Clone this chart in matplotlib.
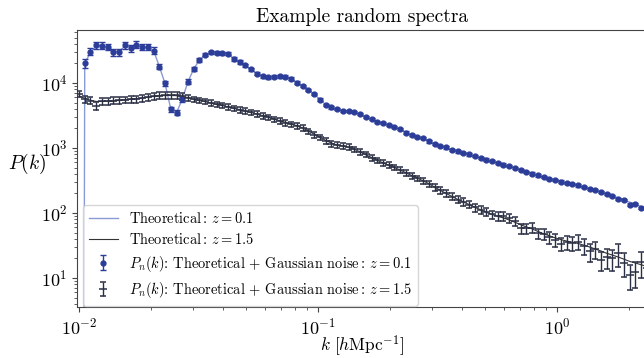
import numpy as np
import matplotlib
matplotlib.use("Agg")
import matplotlib.pyplot as plt

plt.rcParams['font.family'] = 'serif'
plt.rcParams['font.serif'] = ['cmr10']
plt.rcParams['mathtext.fontset'] = 'cm'
plt.rcParams['axes.formatter.use_mathtext'] = True

k = [0.0100, 0.01057, 0.01117, 0.01180, 0.01247, 0.01318, 0.01393, 0.01472, 0.01556, 0.01644,
     0.01738, 0.01837, 0.01941, 0.02051, 0.02168, 0.02291, 0.02421, 0.02559, 0.02704, 0.02858,
     0.03020, 0.03192, 0.03373, 0.03565, 0.03767, 0.03981, 0.04207, 0.04446, 0.04699, 0.04966,
     0.05248, 0.05546, 0.05861, 0.06194, 0.06546, 0.06918, 0.07311, 0.07727, 0.08166, 0.08630,
     0.09120, 0.09638, 0.1019, 0.1076, 0.1138, 0.1202, 0.1271, 0.1343, 0.1419, 0.1500,
     0.1585, 0.1675, 0.1770, 0.1871, 0.1977, 0.2089, 0.2208, 0.2333, 0.2466, 0.2606,
     0.2754, 0.2911, 0.3076, 0.3251, 0.3436, 0.3631, 0.3837, 0.4055, 0.4285, 0.4529,
     0.4786, 0.5058, 0.5346, 0.5649, 0.5970, 0.6310, 0.6668, 0.7047, 0.7447, 0.7870,
     0.8318, 0.8790, 0.9290, 0.9817, 1.038, 1.096, 1.159, 1.225, 1.294, 1.368,
     1.445, 1.528, 1.614, 1.706, 1.803, 1.905, 2.014, 2.128, 2.249, 2.377]

theory_z01 = [1e-30, 2.0e4, 2.95e4, 3.7e4, 3.75e4, 3.55e4, 3.1e4, 3.05e4, 3.7e4, 3.55e4,
              3.75e4, 3.6e4, 3.55e4, 3.15e4, 1.8e4, 9.8e3, 4.0e3, 3.5e3, 5.6e3, 1.05e4,
              1.64e4, 2.25e4, 2.74e4, 2.95e4, 2.93e4, 2.87e4, 2.8e4, 2.36e4, 2.1e4, 1.87e4,
              1.62e4, 1.4e4, 1.27e4, 1.23e4, 1.25e4, 1.26e4, 1.24e4, 1.16e4, 1.01e4, 8.9e3,
              7.9e3, 6.7e3, 5.6e3, 4.65e3, 4.2e3, 3.95e3, 3.75e3, 3.65e3, 3.52e3, 3.3e3,
              2.98e3, 2.76e3, 2.55e3, 2.4e3, 2.26e3, 2.1e3, 1.93e3, 1.74e3, 1.59e3, 1.49e3,
              1.4e3, 1.27e3, 1.16e3, 1.08e3, 1.01e3, 940, 885, 835, 790, 745,
              703, 664, 627, 592, 558, 526, 495, 463, 431, 404,
              379, 357, 338, 320, 305, 291, 278, 264, 250, 237,
              224, 211, 198, 185, 171, 159, 147, 136, 126, 117]

noisy_z01 = [np.nan, 2.05e4, 3.03e4, 3.85e4, 3.75e4, 3.6e4, 3.0e4, 2.97e4, 3.85e4, 3.45e4,
             3.9e4, 3.6e4, 3.6e4, 3.14e4, 1.78e4, 9.9e3, 3.93e3, 3.49e3, 5.6e3, 1.05e4,
             1.64e4, 2.26e4, 2.74e4, 2.97e4, 2.93e4, 2.86e4, 2.82e4, 2.34e4, 2.1e4, 1.87e4,
             1.62e4, 1.39e4, 1.27e4, 1.22e4, 1.25e4, 1.27e4, 1.25e4, 1.16e4, 1.01e4, 9.0e3,
             7.9e3, 6.7e3, 5.55e3, 4.58e3, 4.2e3, 3.98e3, 3.73e3, 3.67e3, 3.54e3, 3.3e3,
             2.97e3, 2.77e3, 2.54e3, 2.4e3, 2.26e3, 2.1e3, 1.94e3, 1.73e3, 1.58e3, 1.49e3,
             1.41e3, 1.26e3, 1.15e3, 1.08e3, 1.02e3, 937, 883, 837, 794, 745,
             701, 665, 627, 592, 557, 525, 496, 462, 428, 404,
             378, 358, 337, 322, 305, 293, 279, 265, 249, 237,
             224, 210, 196, 183, 163, 158, 135, 137, 118, 112]

relerr_z01 = [0.0, 0.16, 0.12, 0.12, 0.12, 0.12, 0.12, 0.12, 0.12, 0.12,
              0.12, 0.12, 0.12, 0.12, 0.09, 0.09, 0.09, 0.09, 0.08, 0.08,
              0.07, 0.07, 0.06, 0.06, 0.06, 0.06, 0.06, 0.06, 0.06, 0.06,
              0.05, 0.05, 0.05, 0.05, 0.05, 0.05, 0.05, 0.05, 0.05, 0.05,
              0.04, 0.04, 0.04, 0.04, 0.04, 0.04, 0.04, 0.04, 0.04, 0.04,
              0.04, 0.04, 0.04, 0.04, 0.04, 0.04, 0.04, 0.04, 0.04, 0.04,
              0.04, 0.04, 0.04, 0.04, 0.04, 0.04, 0.04, 0.04, 0.04, 0.04,
              0.04, 0.04, 0.04, 0.04, 0.04, 0.04, 0.04, 0.04, 0.04, 0.04,
              0.04, 0.04, 0.04, 0.04, 0.04, 0.04, 0.04, 0.04, 0.04, 0.04,
              0.04, 0.04, 0.04, 0.04, 0.04, 0.04, 0.04, 0.04, 0.04, 0.04]

theory_z15 = [6.3e3, 5.8e3, 5.4e3, 5.2e3, 5.2e3, 5.25e3, 5.3e3, 5.4e3, 5.5e3, 5.6e3,
              5.7e3, 5.85e3, 6.05e3, 6.22e3, 6.35e3, 6.42e3, 6.42e3, 6.38e3, 6.22e3, 5.95e3,
              5.62e3, 5.37e3, 5.17e3, 4.92e3, 4.68e3, 4.5e3, 4.3e3, 4.08e3, 3.88e3, 3.7e3,
              3.52e3, 3.33e3, 3.14e3, 2.97e3, 2.78e3, 2.62e3, 2.47e3, 2.33e3, 2.2e3, 2.03e3,
              1.82e3, 1.63e3, 1.46e3, 1.31e3, 1.19e3, 1.11e3, 1.07e3, 1.03e3, 955, 870,
              790, 712, 645, 590, 545, 500, 458, 416, 376, 342,
              313, 282, 250, 223, 200, 180, 162, 148, 135, 123,
              112, 103, 95, 89, 84, 78, 72, 66, 61, 57,
              52, 48, 44.5, 41.5, 39, 37, 35.5, 34, 32, 30,
              28, 26, 24, 22.5, 21, 19.5, 18, 17, 16, 15]

noisy_z15 = [6.8e3, 5.6e3, 5.35e3, 4.48e3, 5.25e3, 5.28e3, 5.35e3, 5.43e3, 5.53e3, 5.61e3,
             5.68e3, 5.88e3, 6.09e3, 6.27e3, 6.38e3, 6.42e3, 6.42e3, 6.42e3, 6.2e3, 5.92e3,
             5.57e3, 5.38e3, 5.19e3, 4.92e3, 4.67e3, 4.51e3, 4.3e3, 4.08e3, 3.87e3, 3.71e3,
             3.52e3, 3.33e3, 3.13e3, 2.97e3, 2.75e3, 2.6e3, 2.45e3, 2.32e3, 2.2e3, 2.05e3,
             1.8e3, 1.61e3, 1.45e3, 1.30e3, 1.17e3, 1.11e3, 1.08e3, 1.04e3, 948, 867,
             794, 701, 642, 588, 547, 501, 459, 415, 373, 340,
             316, 279, 247, 222, 200, 179, 161, 148, 135, 122,
             112, 104, 94.8, 88.4, 89, 82.3, 75.3, 58.2, 57.8, 59.8,
             48.4, 47.6, 42, 39.1, 33.3, 35.8, 34.5, 35.8, 31.6, 25.6,
             27.9, 18.9, 20.7, 20, 24.2, 17.3, 11.1, 12.4, 17.6, 14]

relerr_z15 = [0.12, 0.12, 0.12, 0.14, 0.12, 0.12, 0.12, 0.12, 0.12, 0.12,
              0.12, 0.12, 0.12, 0.12, 0.12, 0.12, 0.12, 0.12, 0.12, 0.12,
              0.10, 0.10, 0.10, 0.10, 0.10, 0.10, 0.10, 0.10, 0.10, 0.10,
              0.10, 0.10, 0.10, 0.10, 0.10, 0.10, 0.10, 0.10, 0.10, 0.10,
              0.10, 0.10, 0.10, 0.10, 0.10, 0.10, 0.10, 0.10, 0.10, 0.10,
              0.10, 0.10, 0.10, 0.10, 0.10, 0.10, 0.10, 0.10, 0.10, 0.10,
              0.11, 0.11, 0.12, 0.12, 0.12, 0.12, 0.13, 0.13, 0.13, 0.14,
              0.14, 0.15, 0.15, 0.16, 0.16, 0.16, 0.17, 0.17, 0.18, 0.18,
              0.18, 0.20, 0.22, 0.22, 0.22, 0.24, 0.24, 0.26, 0.28, 0.30,
              0.30, 0.32, 0.34, 0.36, 0.38, 0.40, 0.42, 0.44, 0.44, 0.45]

k = np.array(k)
noisy_z01 = np.array(noisy_z01)
noisy_z15 = np.array(noisy_z15)
err_z01 = noisy_z01 * np.array(relerr_z01)
err_z15 = noisy_z15 * np.array(relerr_z15)

blue = '#2b3d98'
blue_line = '#8a9ad4'
dark = '#2a2f44'

fig = plt.figure(figsize=(6.44, 3.58), dpi=100)
ax = fig.add_axes([77/644, 51/358, 570/644, 277/358])

ax.plot(k, theory_z01, color=blue_line, lw=1.0, label=r'Theoretical$:\, z=0.1$', zorder=2)
ax.plot(k, theory_z15, color='#333333', lw=0.8, label=r'Theoretical$:\, z=1.5$', zorder=2)
ax.errorbar(k, noisy_z01, yerr=err_z01, fmt='o', ms=3.5, color=blue, ecolor=blue,
            elinewidth=1.0, capsize=2, capthick=1.0,
            label=r'$P_n(k)$: Theoretical + Gaussian noise$:\, z=0.1$', zorder=3)
ax.errorbar(k, noisy_z15, yerr=err_z15, fmt='_', ms=6, mew=1.1, color=dark, ecolor=dark,
            elinewidth=1.0, capsize=2, capthick=1.0,
            label=r'$P_n(k)$: Theoretical + Gaussian noise$:\, z=1.5$', zorder=3)

ax.set_xscale('log')
ax.set_yscale('log')
ax.set_xlim(0.00981, 2.38)
ax.set_ylim(3.58, 6.53e4)

ax.set_title('Example random spectra', fontsize=14)
ax.set_xlabel(r'$k\ [h\mathrm{Mpc}^{-1}]$', fontsize=12.5, labelpad=-3)
ax.set_ylabel(r'$P(k)$', fontsize=14, rotation=0, va='center', ha='center')
ax.yaxis.set_label_coords(-0.088, 0.515)
ax.tick_params(axis='both', which='major', labelsize=13, length=3.5, color='#444444')
ax.tick_params(axis='both', which='minor', length=2, color='#444444')
for s in ax.spines.values():
    s.set_color('#444444')

ax.legend(loc='lower left', bbox_to_anchor=(0.0105, 0.004), borderaxespad=0,
          fontsize=10.4, labelspacing=0.45)

fig.savefig('out.png', dpi=100)
